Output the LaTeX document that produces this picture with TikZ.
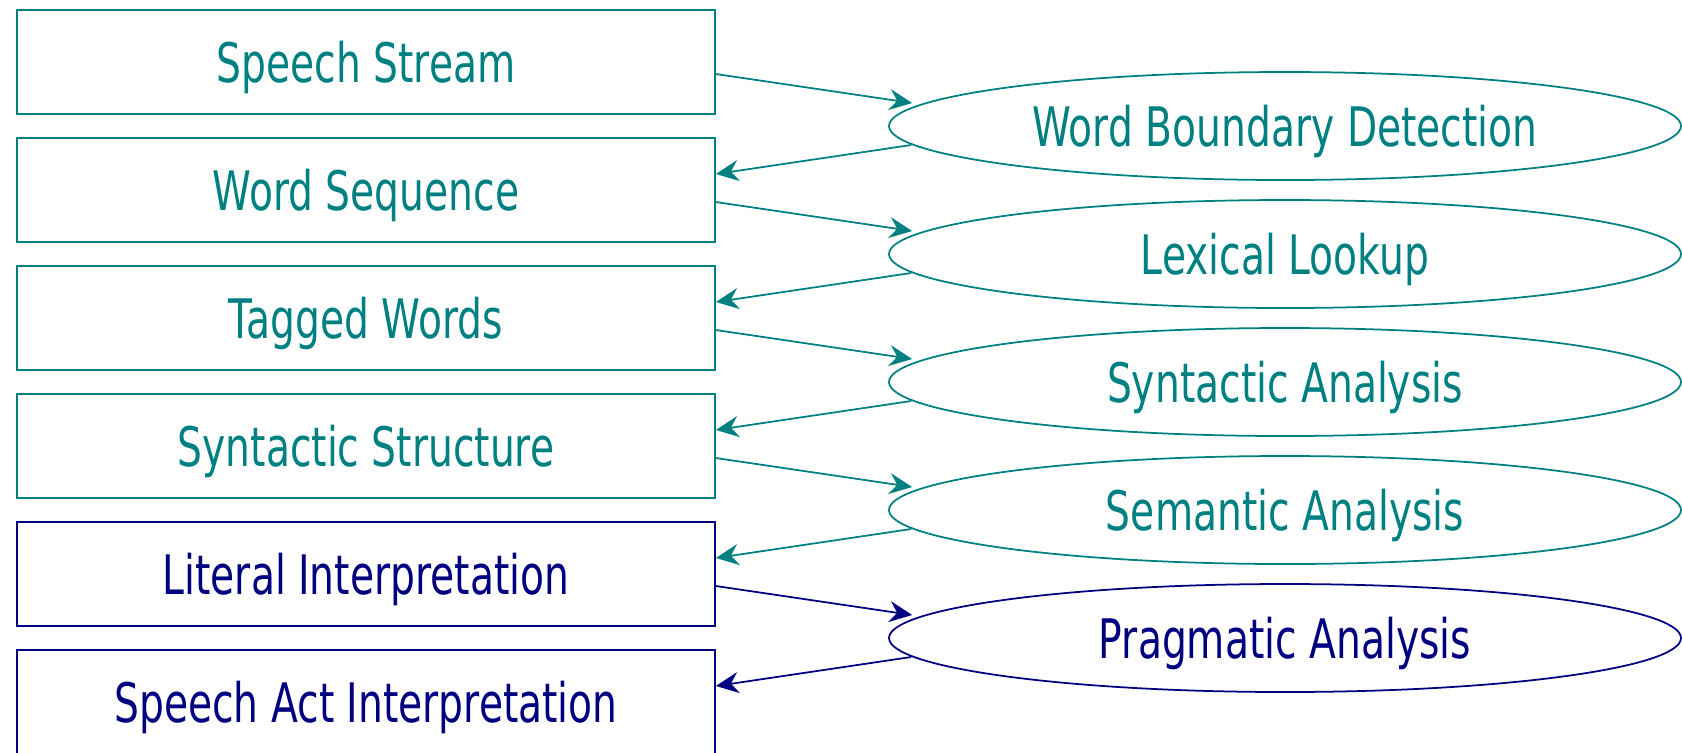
\documentclass[tikz,border=0pt]{standalone}
\usepackage{fontspec}
\setmainfont[FakeStretch=0.72]{DejaVu Sans}
\usetikzlibrary{arrows.meta, shapes.geometric}
\definecolor{stagecol}{RGB}{0,128,128}
\definecolor{pragcol}{RGB}{0,0,128}

\begin{document}
\begin{tikzpicture}[
        line width = .5pt,
        font = \fontsize{15.5}{18}\selectfont,
        rep/.style = {draw, rectangle, minimum width = 6.98cm, minimum height = 1.04cm,
            inner sep = 0pt, text height = 14pt, text depth = 2.5pt},
        proc/.style = {draw, ellipse, minimum width = 7.92cm, minimum height = 1.08cm,
            inner sep = 0pt, text height = 14pt, text depth = 2.5pt},
        flow/.style = {-{Stealth[length=6.5pt, width=6pt, inset=2.2pt]}}
    ]
        \useasboundingbox (0,0) rectangle (16.82,-7.52);
        % representations
        \node[rep, stagecol] (stream)    at (3.66,-0.62) {Speech Stream};
        \node[rep, stagecol] (words)     at (3.66,-1.90) {Word Sequence};
        \node[rep, stagecol] (tagged)    at (3.66,-3.18) {Tagged Words};
        \node[rep, stagecol] (syntax)    at (3.66,-4.46) {Syntactic Structure};
        \node[rep, pragcol]  (literal)   at (3.66,-5.74) {Literal Interpretation};
        \node[rep, pragcol]  (speechact) at (3.66,-7.02) {Speech Act Interpretation};
        % processes
        \node[proc, stagecol] (boundary)  at (12.85,-1.26) {Word Boundary Detection};
        \node[proc, stagecol] (lexical)   at (12.85,-2.54) {Lexical Lookup};
        \node[proc, stagecol] (parsing)   at (12.85,-3.82) {Syntactic Analysis};
        \node[proc, stagecol] (semantic)  at (12.85,-5.10) {Semantic Analysis};
        \node[proc, pragcol]  (pragmatic) at (12.85,-6.38) {Pragmatic Analysis};
        % flow
        \draw[flow, stagecol] ([yshift=-.12cm]stream.east) -- ([shift={(.24,.23)}]boundary.west);
        \draw[flow, stagecol] ([shift={(.23,-.19)}]boundary.west) -- ([yshift=.16cm]words.east);
        \draw[flow, stagecol] ([yshift=-.12cm]words.east) -- ([shift={(.24,.23)}]lexical.west);
        \draw[flow, stagecol] ([shift={(.23,-.19)}]lexical.west) -- ([yshift=.16cm]tagged.east);
        \draw[flow, stagecol] ([yshift=-.12cm]tagged.east) -- ([shift={(.24,.23)}]parsing.west);
        \draw[flow, stagecol] ([shift={(.23,-.19)}]parsing.west) -- ([yshift=.16cm]syntax.east);
        \draw[flow, stagecol] ([yshift=-.12cm]syntax.east) -- ([shift={(.24,.23)}]semantic.west);
        \draw[flow, stagecol] ([shift={(.23,-.19)}]semantic.west) -- ([yshift=.16cm]literal.east);
        \draw[flow, pragcol] ([yshift=-.12cm]literal.east) -- ([shift={(.24,.23)}]pragmatic.west);
        \draw[flow, pragcol] ([shift={(.23,-.19)}]pragmatic.west) -- ([yshift=.16cm]speechact.east);
    \end{tikzpicture}
\end{document}
